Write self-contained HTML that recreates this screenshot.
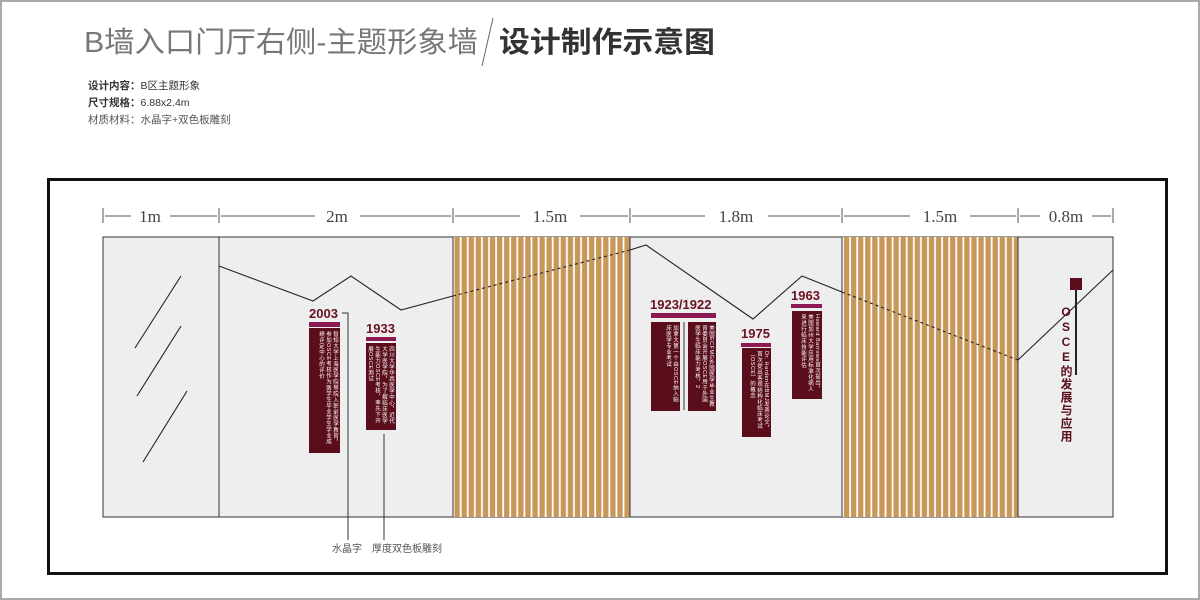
<!DOCTYPE html>
<html><head><meta charset="utf-8"><style>
body{margin:0;width:1200px;height:600px;background:#fff;overflow:hidden;font-family:"Liberation Sans","Noto Sans CJK SC",sans-serif;}
.v{writing-mode:vertical-rl;color:#fff;font-size:5.5px;line-height:7px;letter-spacing:0.5px;position:absolute;overflow:hidden;padding:3px 2px;box-sizing:border-box;background:#5a0e1c;}
</style></head><body>
<div style="position:absolute;left:0;top:0;width:1196px;height:596px;border:2px solid #aaa;"></div>
<svg width="1200" height="600" style="position:absolute;left:0;top:0" font-family="Liberation Sans, Noto Sans CJK SC, sans-serif">
<defs>
<pattern id="st" x="453" y="0" width="7.08" height="10" patternUnits="userSpaceOnUse">
<rect width="7.08" height="10" fill="#fff"/><rect x="1.5" width="5.3" height="10" fill="#c8975a"/></pattern>
</defs>
<text x="84" y="52" font-size="29" fill="#777" textLength="394" lengthAdjust="spacingAndGlyphs">B墙入口门厅右侧-主题形象墙</text>
<line x1="493" y1="18" x2="482" y2="66" stroke="#666" stroke-width="1"/>
<text x="499" y="52" font-size="29" font-weight="bold" fill="#333" textLength="216" lengthAdjust="spacingAndGlyphs">设计制作示意图</text>
<text x="88" y="89" font-size="10.5" fill="#333"><tspan font-weight="bold">设计内容：</tspan>B区主题形象</text>
<text x="88" y="106" font-size="10.5" fill="#333"><tspan font-weight="bold">尺寸规格：</tspan>6.88x2.4m</text>
<text x="88" y="123" font-size="10.5" fill="#555">材质材料：水晶字+双色板雕刻</text>
<rect x="48.5" y="179.5" width="1118" height="394" fill="none" stroke="#111" stroke-width="3"/>
<rect x="103" y="237" width="1010" height="280" fill="#eeeeee" stroke="#333" stroke-width="1"/>
<rect x="453" y="237" width="177" height="280" fill="url(#st)"/>
<rect x="842" y="237" width="176" height="280" fill="url(#st)"/>
<g stroke="#333" stroke-width="1">
<line x1="219" y1="237" x2="219" y2="517"/><line x1="453" y1="237" x2="453" y2="517"/><line x1="630" y1="237" x2="630" y2="517"/><line x1="842" y1="237" x2="842" y2="517"/><line x1="1018" y1="237" x2="1018" y2="517"/>
</g>
<g stroke="#555" stroke-width="1">
<line x1="103" y1="208" x2="103" y2="223"/><line x1="219" y1="208" x2="219" y2="223"/><line x1="453" y1="208" x2="453" y2="223"/><line x1="630" y1="208" x2="630" y2="223"/><line x1="842" y1="208" x2="842" y2="223"/><line x1="1018" y1="208" x2="1018" y2="223"/><line x1="1113" y1="208" x2="1113" y2="223"/>
<line x1="105" y1="216" x2="131" y2="216"/><line x1="170" y1="216" x2="217" y2="216"/>
<line x1="221" y1="216" x2="315" y2="216"/><line x1="360" y1="216" x2="451" y2="216"/>
<line x1="455" y1="216" x2="520" y2="216"/><line x1="580" y1="216" x2="628" y2="216"/>
<line x1="632" y1="216" x2="705" y2="216"/><line x1="768" y1="216" x2="840" y2="216"/>
<line x1="844" y1="216" x2="910" y2="216"/><line x1="970" y1="216" x2="1016" y2="216"/>
<line x1="1020" y1="216" x2="1040" y2="216"/><line x1="1092" y1="216" x2="1111" y2="216"/>
</g>
<g font-family="Liberation Serif, serif" font-size="17" fill="#444" text-anchor="middle">
<text x="150" y="222">1m</text><text x="337" y="222">2m</text><text x="550" y="222">1.5m</text><text x="736" y="222">1.8m</text><text x="940" y="222">1.5m</text><text x="1066" y="222">0.8m</text>
</g>
<g stroke="#222" stroke-width="1.1" fill="none">
<line x1="181" y1="276" x2="135" y2="348"/><line x1="181" y1="326" x2="137" y2="396"/><line x1="187" y1="391" x2="143" y2="462"/>
<polyline points="219,266 313,301 351,276 401,310 453,296"/>
<polyline points="630,250 646,245 753,319 802,276 842,292"/>
<polyline points="1018,360 1113,270"/>
<line x1="453" y1="296" x2="630" y2="250" stroke-dasharray="3,3"/>
<line x1="842" y1="292" x2="1018" y2="360" stroke-dasharray="3,3"/>
</g>
<g font-weight="bold" font-size="13" fill="#6a1020">
<text x="309" y="318">2003</text><text x="366" y="333">1933</text><text x="650" y="309">1923/1922</text><text x="741" y="338">1975</text><text x="791" y="300">1963</text>
</g>
<g fill="#8c1a52">
<rect x="309" y="322" width="31" height="5"/><rect x="366" y="337" width="30" height="4"/><rect x="651" y="313" width="65" height="5"/><rect x="741" y="343" width="30" height="4"/><rect x="791" y="304" width="31" height="4"/>
</g>
<line x1="684" y1="322" x2="684" y2="410" stroke="#555" stroke-width="1.2"/>
<polyline points="342,313 348,313 348,540" fill="none" stroke="#333" stroke-width="1"/>
<line x1="384" y1="434" x2="384" y2="540" stroke="#333" stroke-width="1"/>
<text x="332" y="552" font-size="10" fill="#555">水晶字</text>
<text x="372" y="552" font-size="10" fill="#555">厚度双色板雕刻</text>
<rect x="1070" y="278" width="12" height="12" fill="#5a0e1c"/>
<line x1="1076" y1="290" x2="1076" y2="375" stroke="#222" stroke-width="2"/>
</svg>
<div class="v" style="left:309px;top:328px;width:31px;height:125px;">智知大学上海医学院等院入职前医学教育，参加OSCE考核作为医学生毕业学生学业成绩评定中心的评价</div>
<div class="v" style="left:366px;top:343px;width:30px;height:87px;">四川大学华西医学中心，近代大学医学院，为了解临床医学生能力OSCE考核，率先下开展OSCE测试</div>
<div class="v" style="left:651px;top:322px;width:29px;height:89px;">加拿大第一个由OSCE纳入临床医学专业考试</div>
<div class="v" style="left:688px;top:322px;width:28px;height:89px;">美国ECFMG外国医学毕业生教育委员会开展OSCE用于外国医学生临床能力考核，2</div>
<div class="v" style="left:742px;top:348px;width:29px;height:89px;">Dr. Harden在BMJ发表论文，首次提出客观结构化临床考试（OSCE）的概念</div>
<div class="v" style="left:792px;top:311px;width:30px;height:88px;">Howard Barrows首次提出，美国加州大学应用标准化病人来进行临床技能评估</div>
<div style="position:absolute;left:1058px;top:305px;width:16px;writing-mode:vertical-rl;text-orientation:upright;font-weight:bold;font-size:12px;color:#5a0e1c;letter-spacing:1px;line-height:16px;">OSCE的发展与应用</div>
</body></html>
